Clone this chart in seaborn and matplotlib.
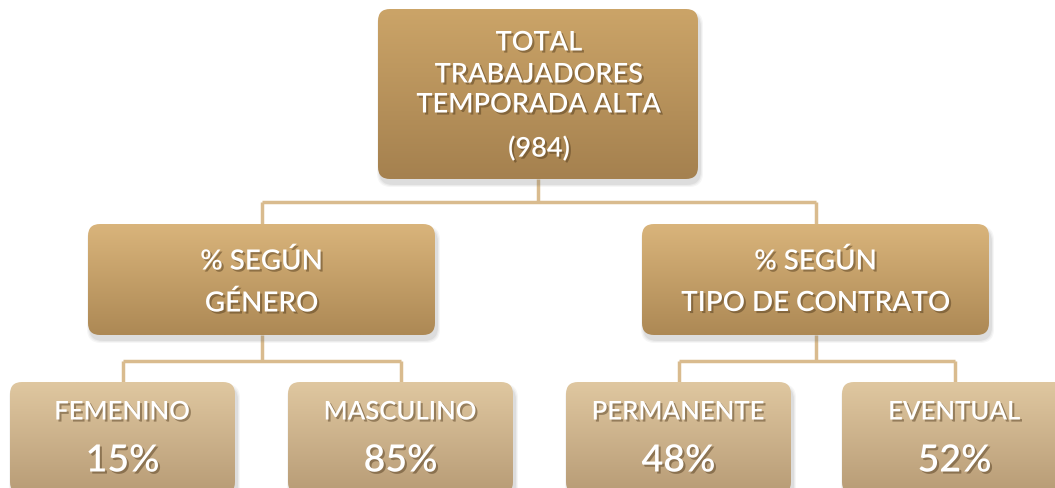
import matplotlib
matplotlib.use("Agg")
import numpy as np
import matplotlib.pyplot as plt
import matplotlib.patheffects as pe
from matplotlib.patches import FancyBboxPatch
import seaborn as sns

# datos del organigrama
root_lines = ["TOTAL", "TRABAJADORES", "TEMPORADA ALTA"]
root_total = 984
group_titles = [["% SEGÚN", "GÉNERO"], ["% SEGÚN", "TIPO DE CONTRATO"]]
genero_labels = ["FEMENINO", "MASCULINO"]
genero_pct = [15, 85]
contrato_labels = ["PERMANENTE", "EVENTUAL"]
contrato_pct = [48, 52]

# geometria (pixeles) y colores
W, H = 1055, 489
root_box = (378, 10, 320, 170)
mid_boxes = [(88, 225, 347, 111), (642, 225, 347, 111)]
leaf_boxes = [(10, 383, 225, 112), (288, 383, 225, 112),
              (566, 383, 225, 112), (842, 383, 225, 112)]
grad_root = ["#cba468", "#a5814f"]
grad_mid = ["#d9b47b", "#ad8955"]
grad_leaf = ["#dfc7a0", "#b89c76"]
line_color = "#d9bb8e"

sns.set_theme(style="white")
plt.rcParams["font.family"] = ["Lato", "DejaVu Sans"]

fig = plt.figure(figsize=(W / 100, H / 100), dpi=100)
ax = fig.add_axes([0, 0, 1, 1])
ax.set_xlim(0, W)
ax.set_ylim(H, 0)
ax.axis("off")

shadow_fx = [pe.SimplePatchShadow(offset=(1.5, -1.5), shadow_rgbFace="#4a3418", alpha=0.45),
             pe.Normal()]


def draw_box(box, colors):
    x, y, w, h = box
    # sombra suave
    for i, a in enumerate([0.06, 0.08, 0.10]):
        grow = 6 - 2 * i
        sh = FancyBboxPatch((x - grow / 2 + 2, y - grow / 2 + 5), w + grow, h + grow,
                            boxstyle="round,pad=0,rounding_size=14",
                            fc="#6b6b6b", ec="none", alpha=a, zorder=1)
        ax.add_patch(sh)
    patch = FancyBboxPatch((x, y), w, h, boxstyle="round,pad=0,rounding_size=12",
                           fc="none", ec="none", zorder=2)
    ax.add_patch(patch)
    pal = sns.blend_palette(colors, n_colors=64)
    img = np.array(pal).reshape(64, 1, 3)
    im = ax.imshow(img, extent=(x, x + w, y + h, y), origin="upper",
                   aspect="auto", interpolation="bilinear", zorder=2)
    im.set_clip_path(patch)


def draw_text(x, y, s, size):
    ax.text(x, y, s, ha="center", va="center", color="white", fontsize=size,
            fontweight="semibold", path_effects=shadow_fx, zorder=5)


def connect(parent, children, mid_y):
    px = parent[0] + parent[2] / 2
    py = parent[1] + parent[3]
    cxs = [c[0] + c[2] / 2 for c in children]
    kw = dict(color=line_color, lw=2.5, zorder=0, solid_capstyle="butt")
    ax.plot([px, px], [py, mid_y], **kw)
    ax.plot([min(cxs), max(cxs)], [mid_y, mid_y], **kw)
    for c, cx in zip(children, cxs):
        ax.plot([cx, cx], [mid_y, c[1]], **kw)


# conectores
connect(root_box, mid_boxes, 203)
connect(mid_boxes[0], leaf_boxes[:2], 362)
connect(mid_boxes[1], leaf_boxes[2:], 362)

# caja raiz
draw_box(root_box, grad_root)
rx = root_box[0] + root_box[2] / 2
for s, yy in zip(root_lines + [f"({root_total})"], [44, 76, 106, 150]):
    draw_text(rx + 1, yy, s, 19.5)

# cajas intermedias
for box, lines in zip(mid_boxes, group_titles):
    draw_box(box, grad_mid)
    cx = box[0] + box[2] / 2
    draw_text(cx, 262, lines[0], 20)
    draw_text(cx, 304, lines[1], 20)

# hojas
leaf_labels = genero_labels + contrato_labels
leaf_pct = genero_pct + contrato_pct
for box, lab, pct in zip(leaf_boxes, leaf_labels, leaf_pct):
    draw_box(box, grad_leaf)
    cx = box[0] + box[2] / 2
    draw_text(cx, 413, lab, 18.5)
    draw_text(cx, 462, f"{pct}%", 27)

fig.savefig("out.png", dpi=100)
